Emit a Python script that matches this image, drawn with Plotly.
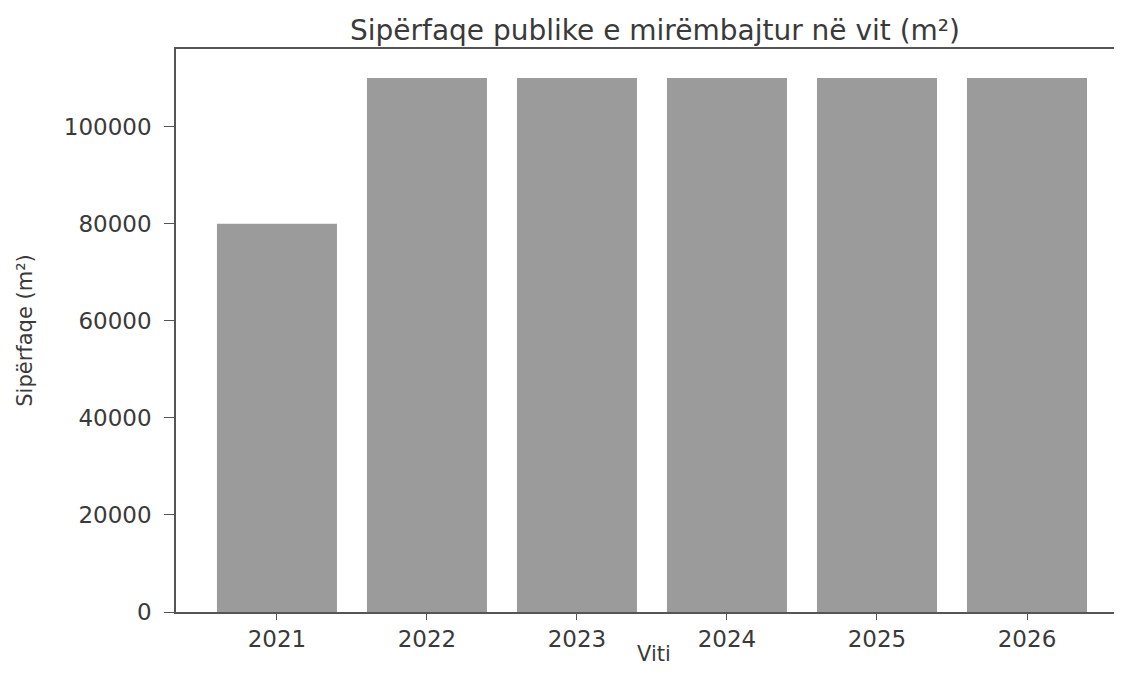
import plotly.graph_objects as go

years = ["2021", "2022", "2023", "2024", "2025", "2026"]
surface = [80000, 110000, 110000, 110000, 110000, 110000]
yticks = [0, 20000, 40000, 60000, 80000, 100000]

font = "DejaVu Sans"
txt = "#3a3a3a"
axc = "#555555"

fig = go.Figure(go.Bar(
    x=years, y=surface, width=0.8,
    marker=dict(color="#9b9b9b", line=dict(width=0)),
))

fig.update_layout(
    width=1106, height=659,
    margin=dict(l=168, r=0, t=41, b=55, autoexpand=False),
    paper_bgcolor="white", plot_bgcolor="white",
    font=dict(family=font, color=txt),
    title=dict(text="Sipërfaqe publike e mirëmbajtur në vit (m²)",
               xref="container", x=0.585, xanchor="center", y=0.967, yanchor="middle",
               font=dict(size=28, color=txt)),
    showlegend=False,
    bargap=0.2,
    annotations=[dict(text="Viti", xref="paper", yref="paper", x=0.51, y=0,
                      xanchor="center", yanchor="bottom", yshift=-55, borderpad=0,
                      showarrow=False, font=dict(size=21, color=txt))],
)
fig.update_xaxes(
    type="category", range=[-0.673, 5.58], automargin=False,
    showline=True, linecolor=axc, linewidth=1.5, mirror=True,
    ticks="outside", ticklen=6, tickcolor=axc, tickwidth=1.2,
    tickfont=dict(size=23, color=txt), showgrid=False,
)
fig.update_yaxes(
    range=[0, 116000], tickvals=yticks, ticktext=[str(v) for v in yticks],
    automargin=False,
    showline=True, linecolor=axc, linewidth=1.5, mirror=False,
    ticks="outside", ticklen=10, tickcolor=axc, tickwidth=1.2,
    ticklabelstandoff=8,
    tickfont=dict(size=23, color=txt), showgrid=False, zeroline=False,
    title=dict(text="Sipërfaqe (m²)", font=dict(size=21, color=txt), standoff=25),
)

fig.write_html("out.html")
